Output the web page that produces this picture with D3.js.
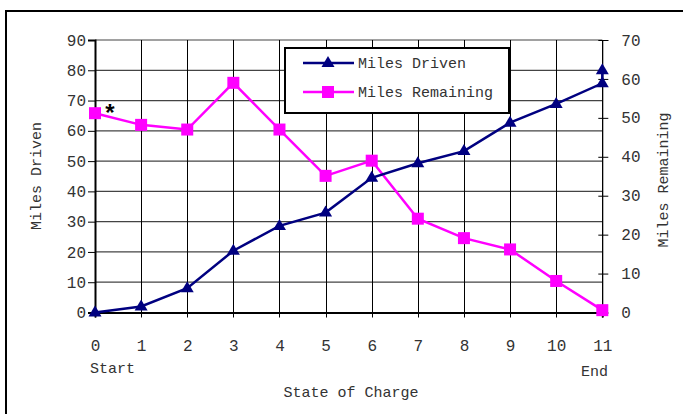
<!DOCTYPE html>
<html><head><meta charset="utf-8">
<script src="https://cdn.jsdelivr.net/npm/d3@7"></script>
<style>html,body{margin:0;padding:0;background:#fff;}svg{display:block;}</style>
</head><body>
<svg id="chart" width="683" height="414"></svg>
<script>
// ---- data ----
const stateOfCharge = [0,1,2,3,4,5,6,7,8,9,10,11];
const milesDriven = [0, 2, 8, 20.4, 28.6, 33, 44.5, 49.3, 53.3, 62.7, 68.9, 75.7];
const milesDrivenEndX = 11;      // extra reading plotted at the end
const milesDrivenEndValue = 80;
const milesRemaining = [51.2, 48.2, 47.0, 59.0, 47.0, 35.1, 39.0, 24.1, 19.1, 16.2, 8.1, 0.6];
const leftTicks = [0,10,20,30,40,50,60,70,80,90];
const rightTicks = [0,10,20,30,40,50,60,70];
const xTickLabels = ["0","1","2","3","4","5","6","7","8","9","10","11"];
const seriesNames = ["Miles Driven", "Miles Remaining"];

const svg = d3.select("#chart");
const FONT = "'Liberation Mono','Courier New',monospace";
const TXT = "#333";

const x = d3.scaleLinear().domain([0,11]).range([95,602.3]);
const yL = d3.scaleLinear().domain([0,90]).range([312.5,40]);
const yR = d3.scaleLinear().domain([0,70]).range([312.5,40]);
const xc = v => Math.round(x(v)) + 0.5;

// outer frame
svg.append("rect").attr("x",6).attr("y",11).attr("width",720).attr("height",450)
  .attr("fill","none").attr("stroke","#000").attr("stroke-width",2);

// horizontal gridlines (left axis)
svg.append("g").selectAll("line").data(leftTicks).join("line")
  .attr("x1",x(0)).attr("x2",x(11)).attr("y1",d=>yL(d)).attr("y2",d=>yL(d))
  .attr("stroke","#444").attr("stroke-width",1.2);
// vertical gridlines
svg.append("g").selectAll("line").data(stateOfCharge).join("line")
  .attr("x1",d=>xc(d)).attr("x2",d=>xc(d)).attr("y1",yL(90)).attr("y2",yL(0)+5)
  .attr("stroke","#000").attr("stroke-width",1);

// left axis
const gl = svg.append("g").attr("transform",`translate(${x(0)},0)`)
  .call(d3.axisLeft(yL).tickValues(leftTicks).tickSize(7).tickPadding(2));
gl.select(".domain").attr("stroke","#000").attr("stroke-width",2);
gl.selectAll(".tick line").attr("stroke","#000");
gl.selectAll("text").attr("font-family",FONT).attr("font-size",16).attr("fill",TXT);

// right axis
const gr = svg.append("g").attr("transform",`translate(${x(11)},0)`)
  .call(d3.axisRight(yR).tickValues(rightTicks).tickSize(6).tickPadding(13));
gr.select(".domain").attr("stroke","#000").attr("stroke-width",1);
gr.selectAll(".tick line").attr("x1",-4).attr("stroke","#000");
gr.selectAll("text").attr("font-family",FONT).attr("font-size",16).attr("fill",TXT);

// bottom axis
const gb = svg.append("g").attr("transform",`translate(0,${yL(0)})`)
  .call(d3.axisBottom(x).tickValues(stateOfCharge).tickFormat((d,i)=>xTickLabels[i]).tickSize(5).tickPadding(22));
gb.select(".domain").attr("stroke","#000").attr("stroke-width",2);
gb.selectAll(".tick line").remove();
gb.selectAll("text").attr("font-family",FONT).attr("font-size",16).attr("fill",TXT);

// axis titles
svg.append("text").attr("x",90).attr("y",373).text("Start")
  .attr("font-family",FONT).attr("font-size",15).attr("fill",TXT);
svg.append("text").attr("x",608).attr("y",376).attr("text-anchor","end").text("End")
  .attr("font-family",FONT).attr("font-size",15).attr("fill",TXT);
svg.append("text").attr("x",351).attr("y",397).attr("text-anchor","middle").text("State of Charge")
  .attr("font-family",FONT).attr("font-size",15).attr("fill",TXT);
svg.append("text").attr("transform","translate(41,176) rotate(-90)").attr("text-anchor","middle")
  .text(seriesNames[0]).attr("font-family",FONT).attr("font-size",15).attr("fill",TXT);
svg.append("text").attr("transform","translate(668,180) rotate(-90)").attr("text-anchor","middle")
  .text(seriesNames[1]).attr("font-family",FONT).attr("font-size",15).attr("fill",TXT);

// series
const NAVY = "#000080", MAG = "#FF00FF";
const drivenPts = stateOfCharge.map((s,i)=>[s, milesDriven[i]]).concat([[milesDrivenEndX, milesDrivenEndValue]]);
const remPts = stateOfCharge.map((s,i)=>[s, milesRemaining[i]]);
const triPath = "M0,-7L6.5,4L-6.5,4Z";

svg.append("path").datum(remPts)
  .attr("d", d3.line().x(d=>x(d[0])).y(d=>yR(d[1])))
  .attr("fill","none").attr("stroke",MAG).attr("stroke-width",2.5);
svg.append("g").selectAll("rect").data(remPts).join("rect")
  .attr("x",d=>x(d[0])-6).attr("y",d=>yR(d[1])-6).attr("width",12).attr("height",12).attr("fill",MAG);

svg.append("path").datum(drivenPts)
  .attr("d", d3.line().x(d=>x(d[0])).y(d=>yL(d[1])))
  .attr("fill","none").attr("stroke",NAVY).attr("stroke-width",2.5);
svg.append("g").selectAll("path").data(drivenPts).join("path")
  .attr("transform",d=>`translate(${x(d[0])},${yL(d[1])})`).attr("d",triPath).attr("fill",NAVY);

// asterisk annotation
svg.append("text").attr("x",110).attr("y",121).attr("text-anchor","middle").text("*")
  .attr("font-family","'Liberation Sans',Arial,sans-serif").attr("font-weight","bold").attr("font-size",24).attr("fill","#000");

// legend
const lg = svg.append("g");
lg.append("rect").attr("x",285).attr("y",48).attr("width",224).attr("height",65)
  .attr("fill","#fff").attr("stroke","#000").attr("stroke-width",2);
const rows = [{name:seriesNames[0], color:NAVY, y:63, mark:"tri"},{name:seriesNames[1], color:MAG, y:92, mark:"sq"}];
rows.forEach(r=>{
  lg.append("line").attr("x1",303).attr("x2",354).attr("y1",r.y).attr("y2",r.y).attr("stroke",r.color).attr("stroke-width",2.5);
  if(r.mark==="tri") lg.append("path").attr("transform",`translate(328,${r.y})`).attr("d",triPath).attr("fill",r.color);
  else lg.append("rect").attr("x",322).attr("y",r.y-6).attr("width",12).attr("height",12).attr("fill",r.color);
  lg.append("text").attr("x",358).attr("y",r.y+5).text(r.name).attr("font-family",FONT).attr("font-size",15).attr("fill",TXT);
});
</script>
</body></html>
